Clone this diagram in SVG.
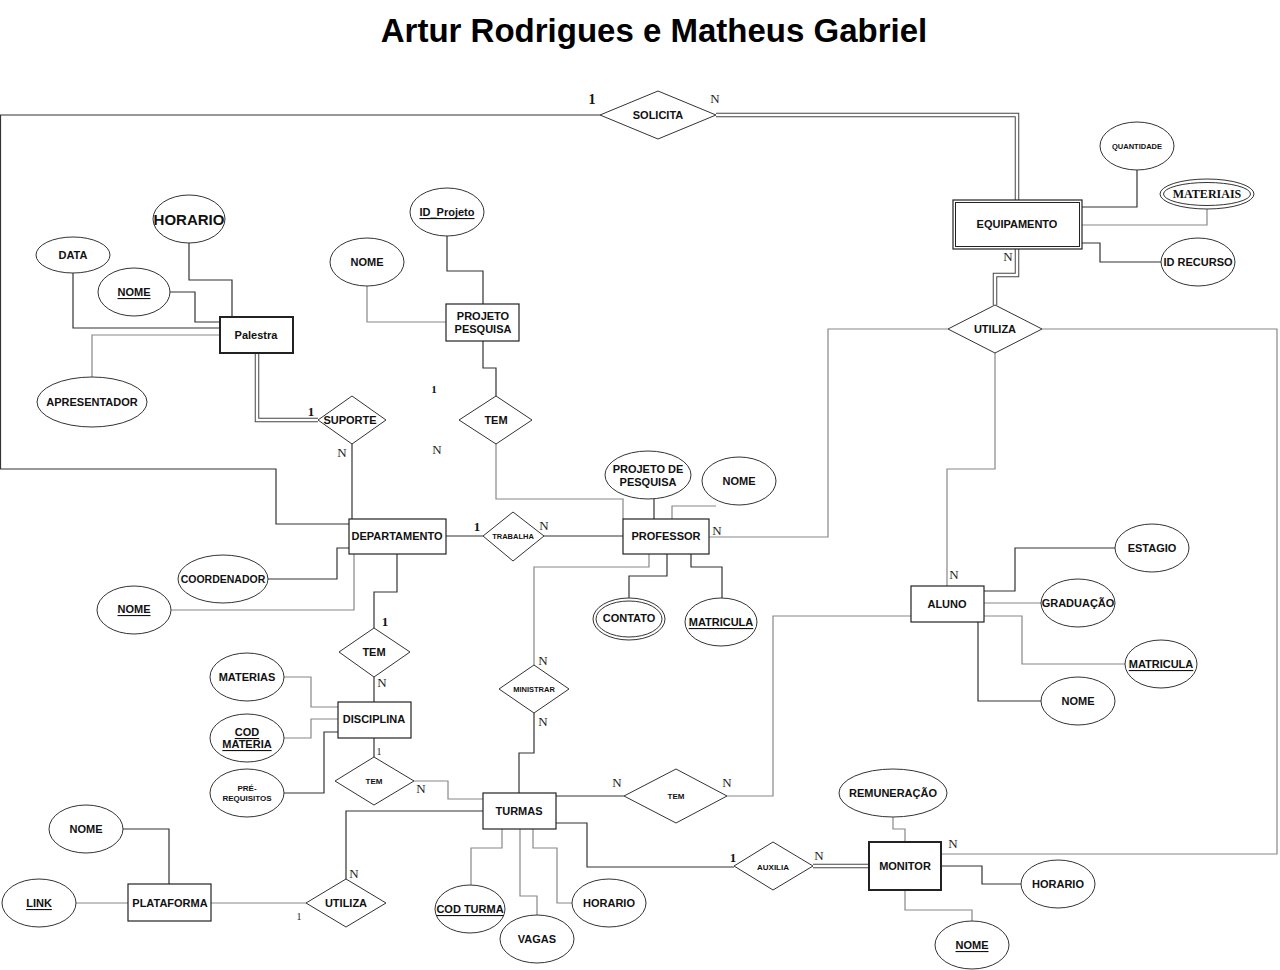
<svg xmlns="http://www.w3.org/2000/svg" width="1280" height="970" viewBox="0 0 1280 970">
<style>
.bg{fill:#fff}
.ent{fill:#fff;stroke:#222;stroke-width:1.2}
.ent2{fill:#fff;stroke:#222;stroke-width:2}
.att{fill:#fff;stroke:#333;stroke-width:1}
.rel{fill:#fff;stroke:#333;stroke-width:1}
.ln{fill:none;stroke:#333;stroke-width:1.2}
.lg{fill:none;stroke:#888;stroke-width:1.2}
.dbl{fill:none;stroke:#444;stroke-width:4.5}
.dblw{fill:none;stroke:#fff;stroke-width:2.5}
text{font-family:"Liberation Sans",Arial,sans-serif;font-weight:bold;fill:#111;text-anchor:middle;dominant-baseline:central}
.t11{font-size:11px}
.t8{font-size:8px}
.t7{font-size:7.5px}
.card{font-family:"Liberation Serif","Times New Roman",serif;font-weight:normal;font-size:13px;fill:#222}
.cardb{font-family:"Liberation Serif","Times New Roman",serif;font-weight:bold;font-size:13px;fill:#111}
.u{text-decoration:underline}
</style>
<rect class="bg" x="0" y="0" width="1280" height="970"/>
<text x="654" y="30" style="font-size:33px;fill:#000">Artur Rodrigues e Matheus Gabriel</text>

<g id="connectors">
  <polyline class="ln" points="600,115 0.5,115 0.5,469 276,469 276,524 349,524"/>
  <polyline class="dbl" points="716,115 1017,115 1017,201"/>
  <polyline class="dblw" points="716,115 1017,115 1017,201"/>
  <polyline class="dbl" points="1017,249 1017,275 995,275 995,305"/>
  <polyline class="dblw" points="1017,249 1017,275 995,275 995,305"/>
  <polyline class="ln" points="1082,207 1137,207 1137,170"/>
  <polyline class="lg" points="1082,225 1207,225 1207,209"/>
  <polyline class="ln" points="1082,243 1100,243 1100,262 1161,262"/>
  <polyline class="lg" points="948,329 828,329 828,537 709,537"/>
  <polyline class="lg" points="1042,329 1277,329 1277,854 941,854"/>
  <polyline class="lg" points="995,353 995,469 947,469 947,586"/>
  <polyline class="ln" points="984,591 1015,591 1015,548 1115,548"/>
  <polyline class="lg" points="984,603 1041,603"/>
  <polyline class="lg" points="984,616 1022,616 1022,664 1125,664"/>
  <polyline class="ln" points="978,622 978,701 1041,701"/>
  <polyline class="lg" points="911,616 773,616 773,796 727,796"/>
  <polyline class="ln" points="556,796 624,796"/>
  <polyline class="ln" points="446,536 483,536"/>
  <polyline class="ln" points="544,536 623,536"/>
  <polyline class="ln" points="654,519 654,499"/>
  <polyline class="lg" points="672,519 672,506 716,506"/>
  <polyline class="ln" points="667,554 667,576 629,576 629,598"/>
  <polyline class="ln" points="691,554 691,567 722,567 722,598"/>
  <polyline class="lg" points="649,554 649,567 534,567 534,665"/>
  <polyline class="ln" points="534,713 534,753 519,753 519,793"/>
  <polyline class="lg" points="496,444 496,499 623,499 623,519"/>
  <polyline class="ln" points="447,236 447,271 483,271 483,304"/>
  <polyline class="lg" points="367,286 367,322 446,322"/>
  <polyline class="ln" points="483,341 483,368 496,368 496,396"/>
  <polyline class="ln" points="189,243 189,280 232,280 232,317"/>
  <polyline class="ln" points="73,273 73,328 220,328"/>
  <polyline class="ln" points="170,292 195,292 195,322 220,322"/>
  <polyline class="lg" points="92,377 92,335 220,335"/>
  <polyline class="dbl" points="257,353 257,420 318,420"/>
  <polyline class="dblw" points="257,353 257,420 318,420"/>
  <polyline class="ln" points="352,444 352,519"/>
  <polyline class="ln" points="268,579 337,579 337,548 349,548"/>
  <polyline class="lg" points="171,610 354,610 354,554"/>
  <polyline class="ln" points="397,554 397,592 374,592 374,628"/>
  <polyline class="ln" points="374,677 374,702"/>
  <polyline class="lg" points="284,677 311,677 311,707 338,707"/>
  <polyline class="lg" points="284,738 311,738 311,719 338,719"/>
  <polyline class="ln" points="284,793 324,793 324,732 338,732"/>
  <polyline class="ln" points="374,738 374,757"/>
  <polyline class="lg" points="414,781 448,781 448,799 483,799"/>
  <polyline class="ln" points="483,811 346,811 346,879"/>
  <polyline class="lg" points="211,903 306,903"/>
  <polyline class="ln" points="123,829 169,829 169,884"/>
  <polyline class="lg" points="76,903 128,903"/>
  <polyline class="lg" points="502,829 502,848 471,848 471,885"/>
  <polyline class="lg" points="520,829 520,896 537,896 537,915"/>
  <polyline class="lg" points="533,829 533,848 557,848 557,903 572,903"/>
  <polyline class="ln" points="556,823 587,823 587,867 734,867"/>
  <polyline class="dbl" points="813,866 869,866"/>
  <polyline class="dblw" points="813,866 869,866"/>
  <polyline class="lg" points="893,817 893,829 905,829 905,842"/>
  <polyline class="ln" points="941,866 982,866 982,884 1021,884"/>
  <polyline class="lg" points="905,890 905,910 972,910 972,921"/>
</g>

<g id="SOLICITA"><polygon class="rel" points="600,115 658,91 716,115 658,139"/><text class="t11" x="658" y="115">SOLICITA</text></g>
<g id="EQUIPAMENTO"><rect class="ent" x="953" y="200" width="129" height="49"/><rect fill="none" stroke="#222" stroke-width="1" x="955.5" y="202.5" width="124" height="44"/><text class="t11" x="1017" y="224">EQUIPAMENTO</text></g>
<g id="QUANTIDADE"><ellipse class="att" cx="1137" cy="146" rx="37" ry="24"/><text class="t7" x="1137" y="146">QUANTIDADE</text></g>
<g id="MATERIAIS"><ellipse class="att" cx="1207" cy="194" rx="47" ry="15"/><ellipse fill="none" stroke="#333" cx="1207" cy="194" rx="43.5" ry="11.5"/><text x="1207" y="194" style="font-family:'Liberation Serif','Times New Roman',serif;font-size:12px">MATERIAIS</text></g>
<g id="ID_RECURSO"><ellipse class="att" cx="1198" cy="262" rx="37" ry="24"/><text class="t11" x="1198" y="262">ID RECURSO</text></g>
<g id="UTILIZA_1"><polygon class="rel" points="948,329 995,305 1042,329 995,353"/><text class="t11" x="995" y="329">UTILIZA</text></g>

<g id="ALUNO"><rect class="ent" x="911" y="586" width="73" height="36"/><text class="t11" x="947" y="604">ALUNO</text></g>
<g id="ESTAGIO"><ellipse class="att" cx="1152" cy="548" rx="37" ry="24"/><text class="t11" x="1152" y="548">ESTAGIO</text></g>
<g id="GRADUACAO"><ellipse class="att" cx="1078" cy="603" rx="37" ry="24"/><text class="t11" x="1078" y="603">GRADUAÇÃO</text></g>
<g id="MATRICULA_ALUNO"><ellipse class="att" cx="1161" cy="664" rx="36" ry="24"/><text class="t11 u" x="1161" y="664">MATRICULA</text></g>
<g id="NOME_ALUNO"><ellipse class="att" cx="1078" cy="701" rx="37" ry="24"/><text class="t11" x="1078" y="701">NOME</text></g>

<g id="PROFESSOR"><rect class="ent" x="623" y="519" width="86" height="35"/><text class="t11" x="666" y="536">PROFESSOR</text></g>
<g id="TRABALHA"><polygon class="rel" points="483,536 513,512 544,536 513,561"/><text class="t7" x="513" y="536">TRABALHA</text></g>
<g id="PROJETO_DE_PESQUISA"><ellipse class="att" cx="648" cy="475" rx="43" ry="24"/><text class="t11" x="648" y="469">PROJETO DE</text><text class="t11" x="648" y="482">PESQUISA</text></g>
<g id="NOME_PROF"><ellipse class="att" cx="739" cy="481" rx="37" ry="24"/><text class="t11" x="739" y="481">NOME</text></g>
<g id="CONTATO"><ellipse class="att" cx="629" cy="619" rx="36" ry="21"/><ellipse fill="none" stroke="#333" cx="629" cy="619" rx="33" ry="18"/><text class="t11" x="629" y="618">CONTATO</text></g>
<g id="MATRICULA_PROF"><ellipse class="att" cx="721" cy="622" rx="36" ry="24"/><text class="t11 u" x="721" y="622">MATRICULA</text></g>
<g id="MINISTRAR"><polygon class="rel" points="499,689 534,665 569,689 534,713"/><text class="t7" x="534" y="689">MINISTRAR</text></g>

<g id="TURMAS"><rect class="ent" x="483" y="793" width="73" height="36"/><text class="t11" x="519" y="811">TURMAS</text></g>
<g id="TEM_TURMAS_ALUNO"><polygon class="rel" points="624,796 676,769 727,796 676,823"/><text class="t8" x="676" y="796">TEM</text></g>
<g id="COD_TURMA"><ellipse class="att" cx="470" cy="909" rx="35" ry="24"/><text class="t11 u" x="470" y="909">COD TURMA</text></g>
<g id="VAGAS"><ellipse class="att" cx="537" cy="939" rx="37" ry="24"/><text class="t11" x="537" y="939">VAGAS</text></g>
<g id="HORARIO_TURMAS"><ellipse class="att" cx="609" cy="903" rx="37" ry="24"/><text class="t11" x="609" y="903">HORARIO</text></g>
<g id="AUXILIA"><polygon class="rel" points="734,866 773,842 813,866 773,890"/><text class="t8" x="773" y="867">AUXILIA</text></g>

<g id="MONITOR"><rect class="ent2" x="869" y="842" width="72" height="48"/><text class="t11" x="905" y="866">MONITOR</text></g>
<g id="REMUNERACAO"><ellipse class="att" cx="893" cy="793" rx="54" ry="24"/><text class="t11" x="893" y="793">REMUNERAÇÃO</text></g>
<g id="HORARIO_MONITOR"><ellipse class="att" cx="1058" cy="884" rx="37" ry="24"/><text class="t11" x="1058" y="884">HORARIO</text></g>
<g id="NOME_MONITOR"><ellipse class="att" cx="972" cy="945" rx="37" ry="24"/><text class="t11 u" x="972" y="945">NOME</text></g>

<g id="PROJETO_PESQUISA"><rect class="ent" x="446" y="304" width="73" height="37"/><text class="t11" x="483" y="316">PROJETO</text><text class="t11" x="483" y="329">PESQUISA</text></g>
<g id="ID_Projeto"><ellipse class="att" cx="447" cy="212" rx="37" ry="24"/><text class="t11 u" x="447" y="212">ID_Projeto</text></g>
<g id="NOME_PROJETO"><ellipse class="att" cx="367" cy="262" rx="37" ry="24"/><text class="t11" x="367" y="262">NOME</text></g>
<g id="TEM_PROJETO"><polygon class="rel" points="459,420 496,396 532,420 496,444"/><text class="t11" x="496" y="420">TEM</text></g>

<g id="Palestra"><rect class="ent2" x="220" y="317" width="73" height="36"/><text class="t11" x="256" y="335">Palestra</text></g>
<g id="HORARIO_PALESTRA"><ellipse class="att" cx="189" cy="219" rx="36" ry="24"/><text x="189" y="219" style="font-size:15px">HORARIO</text></g>
<g id="DATA"><ellipse class="att" cx="73" cy="255" rx="37" ry="18"/><text class="t11" x="73" y="255">DATA</text></g>
<g id="NOME_PALESTRA"><ellipse class="att" cx="134" cy="292" rx="36" ry="24"/><text class="t11 u" x="134" y="292">NOME</text></g>
<g id="APRESENTADOR"><ellipse class="att" cx="92" cy="402" rx="55" ry="25"/><text class="t11" x="92" y="402">APRESENTADOR</text></g>
<g id="SUPORTE"><polygon class="rel" points="318,420 352,396 386,420 352,444"/><text class="t11" x="350" y="420">SUPORTE</text></g>

<g id="DEPARTAMENTO"><rect class="ent" x="349" y="519" width="97" height="35"/><text class="t11" x="397" y="536">DEPARTAMENTO</text></g>
<g id="COORDENADOR"><ellipse class="att" cx="223" cy="579" rx="45" ry="24"/><text class="t11" x="223" y="579" style="font-size:10.5px">COORDENADOR</text></g>
<g id="NOME_DEPARTAMENTO"><ellipse class="att" cx="134" cy="610" rx="37" ry="24"/><text class="t11 u" x="134" y="609">NOME</text></g>
<g id="TEM_DEP_DISC"><polygon class="rel" points="339,652 374,628 410,652 374,677"/><text class="t11" x="374" y="652">TEM</text></g>

<g id="DISCIPLINA"><rect class="ent" x="338" y="702" width="73" height="36"/><text class="t11" x="374" y="719">DISCIPLINA</text></g>
<g id="MATERIAS"><ellipse class="att" cx="247" cy="677" rx="37" ry="24"/><text class="t11" x="247" y="677">MATERIAS</text></g>
<g id="COD_MATERIA"><ellipse class="att" cx="247" cy="738" rx="37" ry="24"/><text class="t11 u" x="247" y="732">COD</text><text class="t11 u" x="247" y="744">MATERIA</text></g>
<g id="PRE_REQUISITOS"><ellipse class="att" cx="247" cy="793" rx="37" ry="24"/><text class="t8" x="247" y="788">PRÉ-</text><text class="t8" x="247" y="798">REQUISITOS</text></g>
<g id="TEM_DISC_TURMAS"><polygon class="rel" points="335,781 374,757 414,781 374,805"/><text class="t8" x="374" y="781">TEM</text></g>

<g id="PLATAFORMA"><rect class="ent" x="128" y="884" width="83" height="37"/><text class="t11" x="170" y="903">PLATAFORMA</text></g>
<g id="NOME_PLATAFORMA"><ellipse class="att" cx="86" cy="829" rx="37" ry="24"/><text class="t11" x="86" y="829">NOME</text></g>
<g id="LINK"><ellipse class="att" cx="39" cy="903" rx="37" ry="24"/><text class="t11 u" x="39" y="903">LINK</text></g>
<g id="UTILIZA_2"><polygon class="rel" points="306,903 346,879 386,903 346,927"/><text class="t11" x="346" y="903">UTILIZA</text></g>

<g id="cardinalities">
  <text class="cardb" x="592" y="99" style="font-size:14px">1</text>
  <text class="card" x="715" y="98">N</text>
  <text class="card" x="1008" y="256">N</text>
  <text class="card" x="717" y="530">N</text>
  <text class="card" x="953" y="843">N</text>
  <text class="card" x="954" y="574">N</text>
  <text class="cardb" x="477" y="526">1</text>
  <text class="card" x="544" y="525">N</text>
  <text class="card" x="543" y="660">N</text>
  <text class="card" x="543" y="721">N</text>
  <text class="card" x="617" y="782">N</text>
  <text class="card" x="727" y="782">N</text>
  <text class="cardb" x="434" y="389" style="font-size:11px">1</text>
  <text class="card" x="437" y="449">N</text>
  <text class="cardb" x="311" y="411">1</text>
  <text class="card" x="342" y="452">N</text>
  <text class="cardb" x="385" y="621">1</text>
  <text class="card" x="382" y="682">N</text>
  <text class="card" x="379" y="751" style="font-size:10px">1</text>
  <text class="card" x="421" y="788">N</text>
  <text class="card" x="354" y="873">N</text>
  <text class="card" x="299" y="916" style="font-size:10px">1</text>
  <text class="cardb" x="733" y="857">1</text>
  <text class="card" x="819" y="855">N</text>
</g>
</svg>
